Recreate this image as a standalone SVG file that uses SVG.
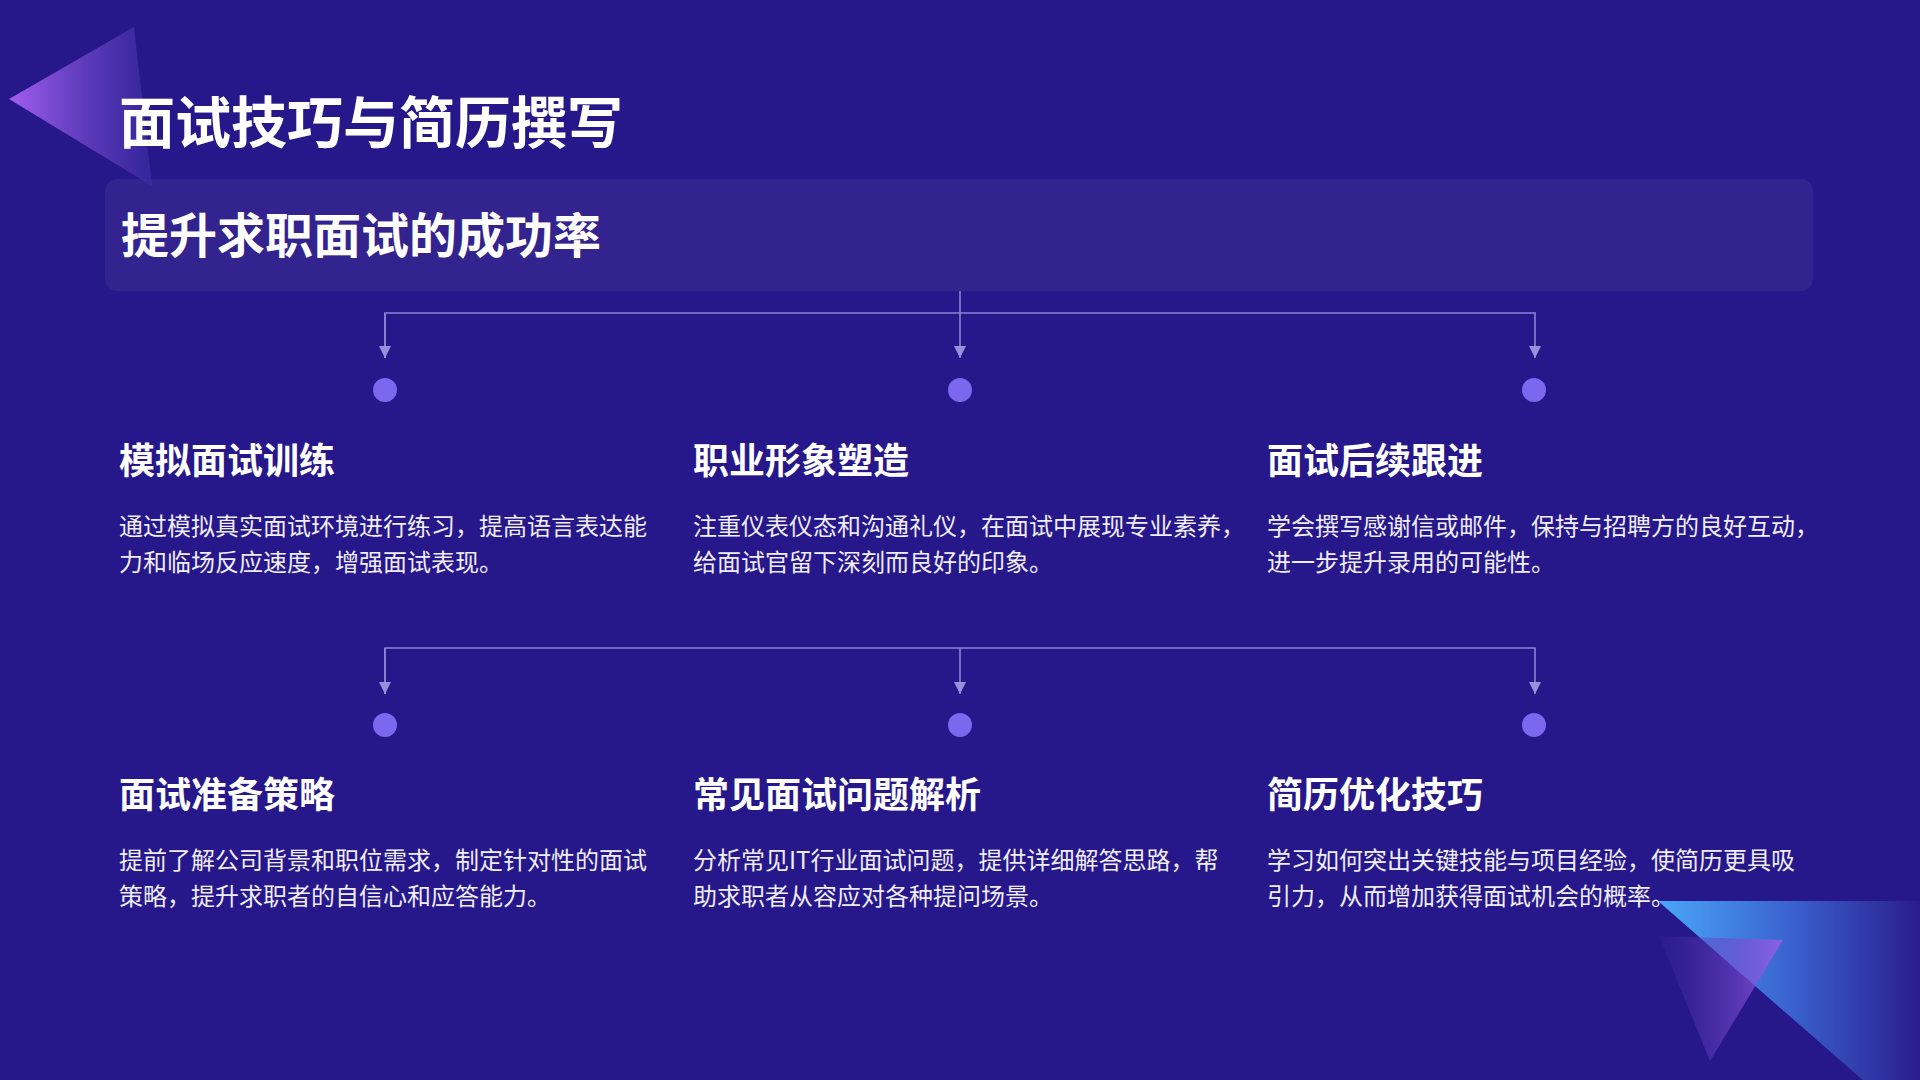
<svg xmlns="http://www.w3.org/2000/svg" width="1920" height="1080" viewBox="0 0 1920 1080">
  <defs>
    <style>
      .cjk { font-family: "Noto Sans CJK SC", "Noto Sans", sans-serif; }
      .title { font-size: 56px; font-weight: 700; fill: #ffffff; }
      .subtitle { font-size: 48px; font-weight: 700; fill: #ffffff; }
      .head { font-size: 36px; font-weight: 700; fill: #ffffff; }
      .desc { font-size: 24px; font-weight: 400; fill: #eeedf8; }
      .conn { fill: none; stroke: #8d84d4; stroke-width: 1.6; }
      .dot { fill: #7b68ee; }
    </style>
    <marker id="arrow" viewBox="0 0 12 12" refX="12" refY="6" markerWidth="12" markerHeight="12" markerUnits="userSpaceOnUse" orient="auto">
      <path d="M0,0 L12,6 L0,12 Z" fill="#9a91da"/>
    </marker>
    <linearGradient id="gTL" x1="0" y1="0" x2="1" y2="0">
      <stop offset="0" stop-color="#a35ff0"/>
      <stop offset="1" stop-color="#3f2ea6" stop-opacity="0.6"/>
    </linearGradient>
    <linearGradient id="gBig" gradientUnits="userSpaceOnUse" x1="1658" y1="0" x2="1920" y2="0">
      <stop offset="0" stop-color="#4aa6f8"/>
      <stop offset="0.5" stop-color="#3a63cf"/>
      <stop offset="1" stop-color="#2a1c8e"/>
    </linearGradient>
    <linearGradient id="gSmall" gradientUnits="userSpaceOnUse" x1="1659" y1="0" x2="1783" y2="0">
      <stop offset="0" stop-color="#3a28a0" stop-opacity="0.3"/>
      <stop offset="1" stop-color="#a05fea" stop-opacity="0.95"/>
    </linearGradient>
  </defs>

  <rect x="0" y="0" width="1920" height="1080" fill="#26178a"/>

  <g id="header-box">
    <rect x="105" y="179" width="1708" height="112" rx="12" ry="12" fill="#33238f"/>
  </g>

  <g id="decor-top-left">
    <polygon points="9,99 134,27 152,186" fill="url(#gTL)"/>
  </g>

  <g id="title">
    <text class="cjk title" x="119" y="143">面试技巧与简历撰写</text>
  </g>
  <g id="subtitle">
    <text class="cjk subtitle" x="121" y="253">提升求职面试的成功率</text>
  </g>

  <g id="connectors">
    <path class="conn" d="M960,291 L960,358" marker-end="url(#arrow)"/>
    <path class="conn" d="M385,358 L385,313 L1535,313 L1535,358" marker-end="url(#arrow)"/>
    <path class="conn" d="M385,313 L385,358" marker-end="url(#arrow)"/>
    <path class="conn" d="M385,694 L385,648 L1535,648 L1535,694" marker-end="url(#arrow)"/>
    <path class="conn" d="M385,648 L385,694" marker-end="url(#arrow)"/>
    <path class="conn" d="M960,648 L960,694" marker-end="url(#arrow)"/>
  </g>

  <g id="node-1">
    <circle class="dot" cx="385" cy="390" r="12"/>
    <text class="cjk head" x="119" y="474">模拟面试训练</text>
    <text class="cjk desc" x="119" y="535">通过模拟真实面试环境进行练习，提高语言表达能</text>
    <text class="cjk desc" x="119" y="571">力和临场反应速度，增强面试表现。</text>
  </g>
  <g id="node-2">
    <circle class="dot" cx="960" cy="390" r="12"/>
    <text class="cjk head" x="693" y="474">职业形象塑造</text>
    <text class="cjk desc" x="693" y="535">注重仪表仪态和沟通礼仪，在面试中展现专业素养，</text>
    <text class="cjk desc" x="693" y="571">给面试官留下深刻而良好的印象。</text>
  </g>
  <g id="node-3">
    <circle class="dot" cx="1534" cy="390" r="12"/>
    <text class="cjk head" x="1267" y="474">面试后续跟进</text>
    <text class="cjk desc" x="1267" y="535">学会撰写感谢信或邮件，保持与招聘方的良好互动，</text>
    <text class="cjk desc" x="1267" y="571">进一步提升录用的可能性。</text>
  </g>
  <g id="node-4">
    <circle class="dot" cx="385" cy="725" r="12"/>
    <text class="cjk head" x="119" y="808">面试准备策略</text>
    <text class="cjk desc" x="119" y="869">提前了解公司背景和职位需求，制定针对性的面试</text>
    <text class="cjk desc" x="119" y="905">策略，提升求职者的自信心和应答能力。</text>
  </g>
  <g id="node-5">
    <circle class="dot" cx="960" cy="725" r="12"/>
    <text class="cjk head" x="693" y="808">常见面试问题解析</text>
    <text class="cjk desc" x="693" y="869">分析常见IT行业面试问题，提供详细解答思路，帮</text>
    <text class="cjk desc" x="693" y="905">助求职者从容应对各种提问场景。</text>
  </g>
  <g id="node-6">
    <circle class="dot" cx="1534" cy="725" r="12"/>
    <text class="cjk head" x="1267" y="808">简历优化技巧</text>
    <text class="cjk desc" x="1267" y="869">学习如何突出关键技能与项目经验，使简历更具吸</text>
    <text class="cjk desc" x="1267" y="905">引力，从而增加获得面试机会的概率。</text>
  </g>

  <g id="decor-bottom-right">
    <polygon points="1658,901 1920,901 1920,1130" fill="url(#gBig)"/>
    <polygon points="1659,936 1783,940 1710,1061" fill="url(#gSmall)" opacity="0.85"/>
  </g>
</svg>
